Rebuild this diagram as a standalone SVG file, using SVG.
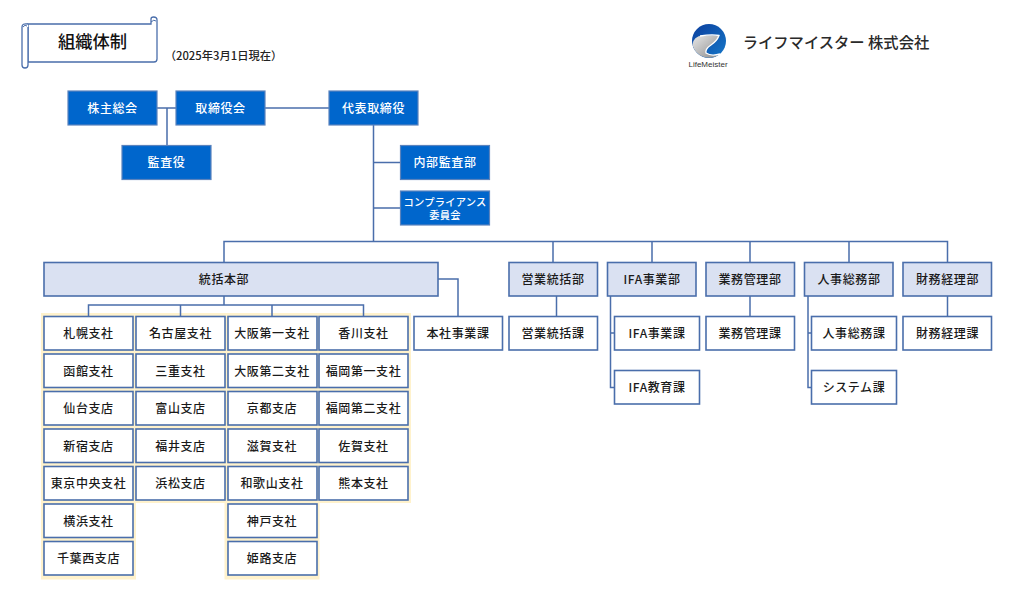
<svg xmlns="http://www.w3.org/2000/svg" width="1024" height="604" viewBox="0 0 1024 604">
<defs>
<linearGradient id="gb" x1="0" y1="0" x2="1" y2="1"><stop offset="0" stop-color="#0b3f9e"/><stop offset="1" stop-color="#1677c8"/></linearGradient>
<linearGradient id="gg" x1="0" y1="0" x2="1" y2="1"><stop offset="0" stop-color="#e8e8e8"/><stop offset="1" stop-color="#8c8c8c"/></linearGradient>
</defs>
<style>
text{font-family:"Noto Sans CJK JP","Liberation Sans",sans-serif;text-anchor:middle;dominant-baseline:central}
.b rect{fill:#0066cc;stroke:#5b83bd;stroke-width:1.2}
.b text{fill:#fff;font-size:12px;font-weight:500;letter-spacing:.6px}
.m rect{fill:#dae1f2;stroke:#4a6eab;stroke-width:1.6}
.w rect{fill:#fff;stroke:#4a6eab;stroke-width:1.6}
.m text,.w text{fill:#1a1a1a;font-size:12px;font-weight:500;letter-spacing:.6px}
.c path{fill:none;stroke:#4a6eab;stroke-width:1.5}
.y{fill:#fff2cc}
</style>
<g id="backing">
<rect class="y" x="41" y="313" width="370" height="190"/>
<rect class="y" x="41" y="500" width="95" height="79.500"/>
<rect class="y" x="224.500" y="500" width="95" height="79.500"/>
</g>
<g id="title">
<path d="M28 24H151V19Q151 17 153.500 17Q157 17 157 20V59Q157 62 154 62H28Z" fill="#fff" stroke="#4a6eab" stroke-width="1.300"/>
<path d="M28 24Q22 23 22 27V65Q22 68 25 68Q28 68 28 65V27" fill="#fff" stroke="#4a6eab" stroke-width="1.300"/>
<path d="M151 22Q154 19 156 21M23 27Q25 24 27 26" fill="none" stroke="#4a6eab" stroke-width="1"/>
<text x="92.500" y="40.500" font-size="17.300" font-weight="500" fill="#111">組織体制</text>
</g>
<text id="date" x="223.500" y="54.500" font-size="11.300" fill="#222" font-weight="500">（2025年3月1日現在）</text>
<g id="logo">
<circle cx="709" cy="41" r="17" fill="url(#gb)"/>
<path d="M692.500 45Q693 36 703 35.500Q712 35 719 35.500Q717 41 711 45Q705 49 706 53Q711 56.500 719 54.500A17 17 0 0 1 692.500 45Z" fill="url(#gg)"/>
<path d="M700 36Q712 34 719 35.500Q717 41 711 45Q705 49 706 53Q711 56.500 720 54" fill="none" stroke="#fff" stroke-width="1.300"/>
<text x="708" y="64.500" font-size="8" font-weight="500" fill="#333" style="font-family:'Liberation Sans',sans-serif">LifeMeister</text>
<text x="836" y="41" font-size="15.300" font-weight="500" fill="#2a2a2a">ライフマイスター 株式会社</text>
</g>
<g id="connectors" class="c">
<path d="M156 108H176M167 108V146"/>
<path d="M265 108H329"/>
<path d="M373.500 125V241.500M373.500 162.500H401M373.500 208H401"/>
<path d="M224 262.500V241.500H947.500V262.500M553 241.500V262.500M652 241.500V262.500M750 241.500V262.500M849 241.500V262.500"/>
<path d="M224 296V305M88.500 316V305H363.500V316M180.500 305V316M272 305V316"/>
<path d="M438 279H458V316"/>
<path d="M556.500 296V316"/>
<path d="M610.500 296V387.500H615M610.500 333H615"/>
<path d="M750 296V316"/>
<path d="M808 296V387.500H811M808 333H811"/>
<path d="M947.500 296V316"/>
</g>
<g id="n-kabunushi" class="b"><rect x="68" y="91" width="89" height="34"/><text x="112.500" y="107">株主総会</text></g>
<g id="n-torishimari" class="b"><rect x="176" y="91" width="89" height="34"/><text x="220.500" y="107">取締役会</text></g>
<g id="n-kansa" class="b"><rect x="122" y="145.500" width="89" height="34"/><text x="166.500" y="161.500">監査役</text></g>
<g id="n-daihyo" class="b"><rect x="329" y="91" width="89" height="34"/><text x="373.500" y="107">代表取締役</text></g>
<g id="n-naibu" class="b"><rect x="400.500" y="145.500" width="89" height="34"/><text x="445" y="161.500">内部監査部</text></g>
<g id="n-comp" class="b"><rect x="400.500" y="191" width="89" height="34"/><text x="445" y="201" style="font-size:10.300px;letter-spacing:.2px">コンプライアンス</text><text x="445" y="214" style="font-size:10.300px;letter-spacing:.2px">委員会</text></g>
<g id="n-tokatsu" class="m"><rect x="44" y="262.500" width="394" height="33.500"/><text x="224" y="278.500">統括本部</text></g>
<g id="n-eigyo" class="m"><rect x="509" y="262.500" width="88.500" height="33.500"/><text x="553" y="278.500">営業統括部</text></g>
<g id="n-ifa" class="m"><rect x="607.500" y="262.500" width="88.500" height="33.500"/><text x="652" y="278.500">IFA事業部</text></g>
<g id="n-gyomu" class="m"><rect x="706" y="262.500" width="88.500" height="33.500"/><text x="750" y="278.500">業務管理部</text></g>
<g id="n-jinji" class="m"><rect x="804.500" y="262.500" width="88.500" height="33.500"/><text x="849" y="278.500">人事総務部</text></g>
<g id="n-zaimu" class="m"><rect x="903" y="262.500" width="88.500" height="33.500"/><text x="947.500" y="278.500">財務経理部</text></g>
<g id="n-honsha" class="w"><rect x="414" y="316.500" width="88.500" height="33.500"/><text x="458" y="332.500">本社事業課</text></g>
<g id="n-eigyo2" class="w"><rect x="509" y="316.500" width="88.500" height="33.500"/><text x="553" y="332.500">営業統括課</text></g>
<g id="n-ifa1" class="w"><rect x="614.500" y="316.500" width="85" height="33.500"/><text x="657" y="332.500">IFA事業課</text></g>
<g id="n-ifa2" class="w"><rect x="614.500" y="370.500" width="85" height="33.500"/><text x="657" y="386.500">IFA教育課</text></g>
<g id="n-gyomu2" class="w"><rect x="706" y="316.500" width="88.500" height="33.500"/><text x="750" y="332.500">業務管理課</text></g>
<g id="n-jinji1" class="w"><rect x="811.500" y="316.500" width="85" height="33.500"/><text x="854" y="332.500">人事総務課</text></g>
<g id="n-system" class="w"><rect x="811.500" y="370.500" width="85" height="33.500"/><text x="854" y="386.500">システム課</text></g>
<g id="n-zaimu2" class="w"><rect x="903" y="316.500" width="88.500" height="33.500"/><text x="947.500" y="332.500">財務経理課</text></g>
<g id="c1-1" class="w"><rect x="44" y="316.500" width="89" height="33.500"/><text x="88.500" y="332.500">札幌支社</text></g>
<g id="c1-2" class="w"><rect x="44" y="354" width="89" height="33.500"/><text x="88.500" y="370">函館支社</text></g>
<g id="c1-3" class="w"><rect x="44" y="391.500" width="89" height="33.500"/><text x="88.500" y="407.500">仙台支店</text></g>
<g id="c1-4" class="w"><rect x="44" y="429" width="89" height="33.500"/><text x="88.500" y="445">新宿支店</text></g>
<g id="c1-5" class="w"><rect x="44" y="466.500" width="89" height="33.500"/><text x="88.500" y="482.500">東京中央支社</text></g>
<g id="c1-6" class="w"><rect x="44" y="504" width="89" height="33.500"/><text x="88.500" y="520">横浜支社</text></g>
<g id="c1-7" class="w"><rect x="44" y="541.500" width="89" height="33.500"/><text x="88.500" y="557.500">千葉西支店</text></g>
<g id="c2-1" class="w"><rect x="136" y="316.500" width="89" height="33.500"/><text x="180.500" y="332.500">名古屋支社</text></g>
<g id="c2-2" class="w"><rect x="136" y="354" width="89" height="33.500"/><text x="180.500" y="370">三重支社</text></g>
<g id="c2-3" class="w"><rect x="136" y="391.500" width="89" height="33.500"/><text x="180.500" y="407.500">富山支店</text></g>
<g id="c2-4" class="w"><rect x="136" y="429" width="89" height="33.500"/><text x="180.500" y="445">福井支店</text></g>
<g id="c2-5" class="w"><rect x="136" y="466.500" width="89" height="33.500"/><text x="180.500" y="482.500">浜松支店</text></g>
<g id="c3-1" class="w"><rect x="228" y="316.500" width="89" height="33.500"/><text x="272" y="332.500">大阪第一支社</text></g>
<g id="c3-2" class="w"><rect x="228" y="354" width="89" height="33.500"/><text x="272" y="370">大阪第二支社</text></g>
<g id="c3-3" class="w"><rect x="228" y="391.500" width="89" height="33.500"/><text x="272" y="407.500">京都支店</text></g>
<g id="c3-4" class="w"><rect x="228" y="429" width="89" height="33.500"/><text x="272" y="445">滋賀支社</text></g>
<g id="c3-5" class="w"><rect x="228" y="466.500" width="89" height="33.500"/><text x="272" y="482.500">和歌山支社</text></g>
<g id="c3-6" class="w"><rect x="228" y="504" width="89" height="33.500"/><text x="272" y="520">神戸支社</text></g>
<g id="c3-7" class="w"><rect x="228" y="541.500" width="89" height="33.500"/><text x="272" y="557.500">姫路支店</text></g>
<g id="c4-1" class="w"><rect x="319" y="316.500" width="89" height="33.500"/><text x="363.500" y="332.500">香川支社</text></g>
<g id="c4-2" class="w"><rect x="319" y="354" width="89" height="33.500"/><text x="363.500" y="370">福岡第一支社</text></g>
<g id="c4-3" class="w"><rect x="319" y="391.500" width="89" height="33.500"/><text x="363.500" y="407.500">福岡第二支社</text></g>
<g id="c4-4" class="w"><rect x="319" y="429" width="89" height="33.500"/><text x="363.500" y="445">佐賀支社</text></g>
<g id="c4-5" class="w"><rect x="319" y="466.500" width="89" height="33.500"/><text x="363.500" y="482.500">熊本支社</text></g>
</svg>
